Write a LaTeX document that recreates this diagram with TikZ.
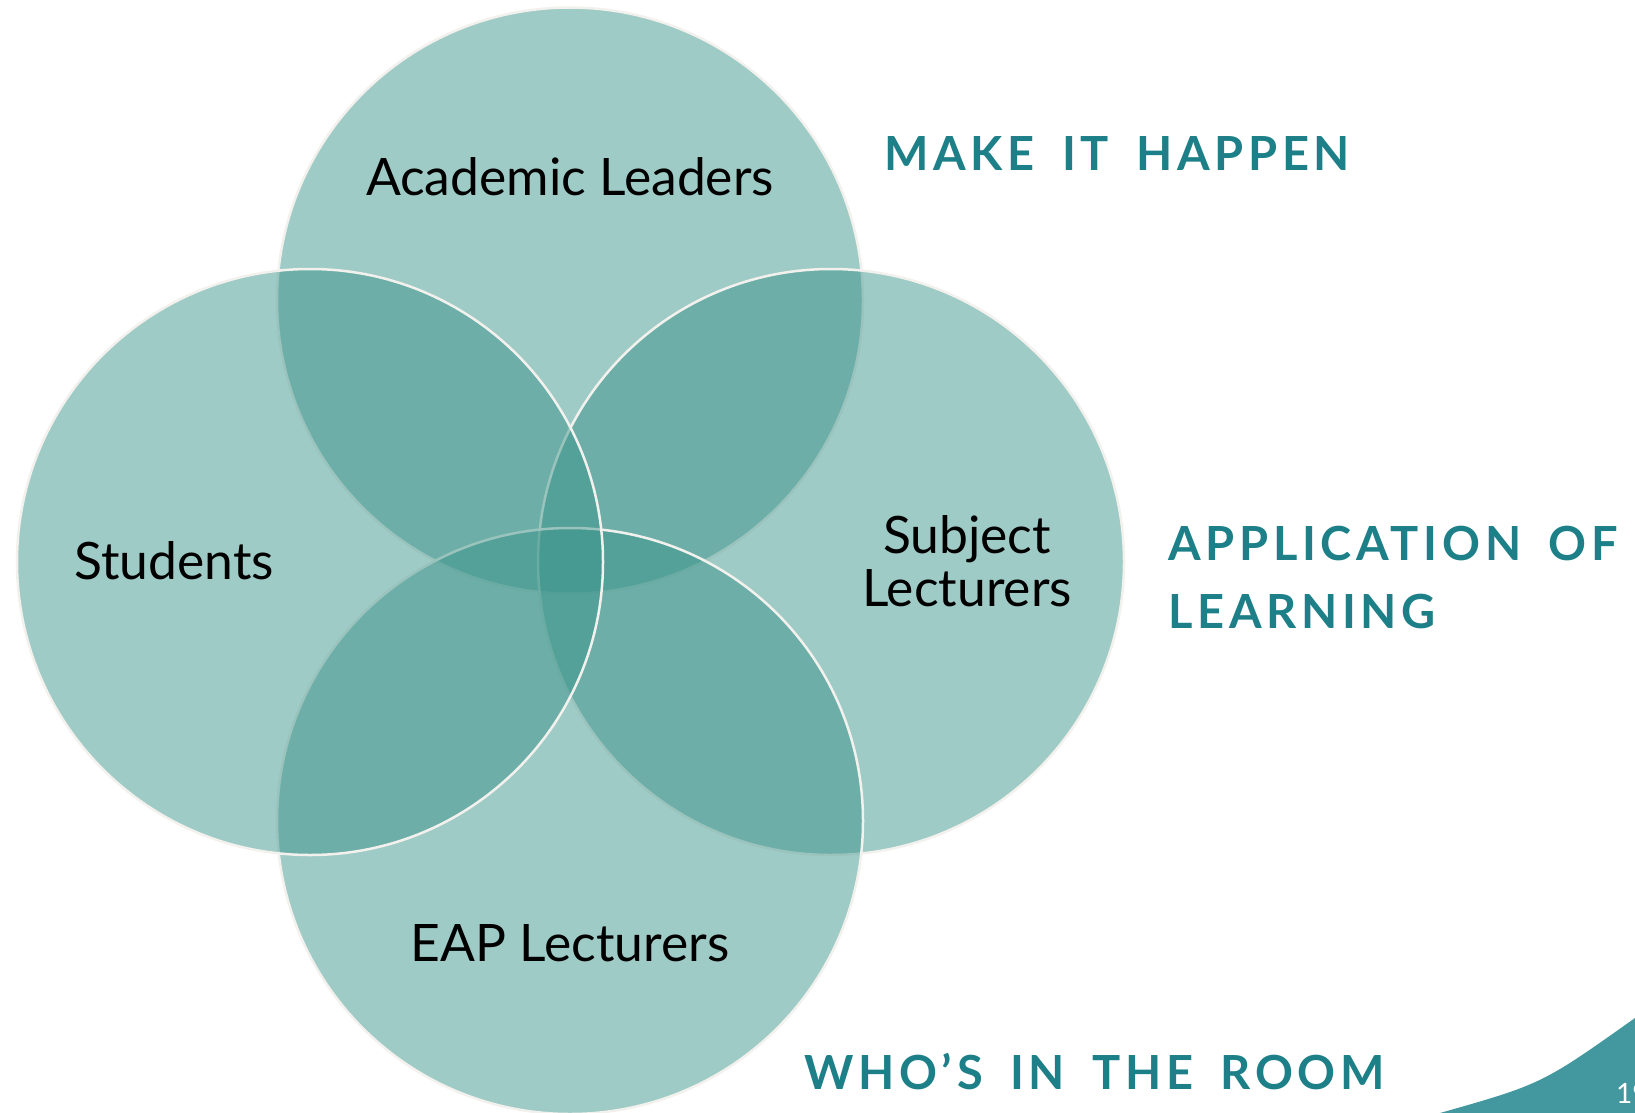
\documentclass[tikz,border=0pt]{standalone}
\usepackage{fontspec}
\setmainfont{Lato}
\newfontfamily\headfont[LetterSpace=10,WordSpace=1.7]{Lato}
\definecolor{venn}{RGB}{55,146,136}
\definecolor{edge}{RGB}{243,241,237}
\definecolor{head}{RGB}{29,127,135}
\definecolor{corner}{RGB}{66,152,158}
\begin{document}
\begin{tikzpicture}[x=1pt,y=-1pt,
  vcirc/.style={fill=venn,fill opacity=0.48,draw=edge,draw opacity=1,line width=2.5pt},
  lbl/.style={font=\fontsize{51.6}{56}\selectfont,text=black,align=center,inner sep=0pt},
  headtxt/.style={font=\headfont\fontsize{47}{56}\selectfont\bfseries,text=head,anchor=west,inner sep=0pt}]
\useasboundingbox (0,0) rectangle (1635,1113);
\clip (0,0) rectangle (1635,1113);
% circles
\path[vcirc] (570,300.5) circle[radius=293pt];
\path[vcirc] (831,562) circle[radius=293pt];
\path[vcirc] (570,821) circle[radius=293pt];
\path[vcirc] (310,562) circle[radius=293pt];
% labels
\node[lbl] (acad) at (570,177) {Academic Leaders};
\node[lbl] (stud) at (174,561) {Students};
\node[lbl] (subj) at (967,561) {Subject\\[-3pt]Lecturers};
\node[lbl] (eap) at (570,943) {EAP Lecturers};
% headings
\node[headtxt] (make) at (884,154) {MAKE IT HAPPEN};
\node[headtxt] (appl1) at (1168,544) {APPLICATION OF};
\node[headtxt] (appl2) at (1168,612) {LEARNING};
\node[headtxt] (who) at (804,1072) {WHO’S IN THE ROOM};
% corner
\fill[corner] (1440,1113) .. controls (1542,1084) .. (1635,1018) -- (1635,1113) -- cycle;
\node[anchor=west,text=white,font=\fontsize{28}{30}\selectfont,inner sep=0pt] (page) at (1616,1093) {19};
\end{tikzpicture}
\end{document}
